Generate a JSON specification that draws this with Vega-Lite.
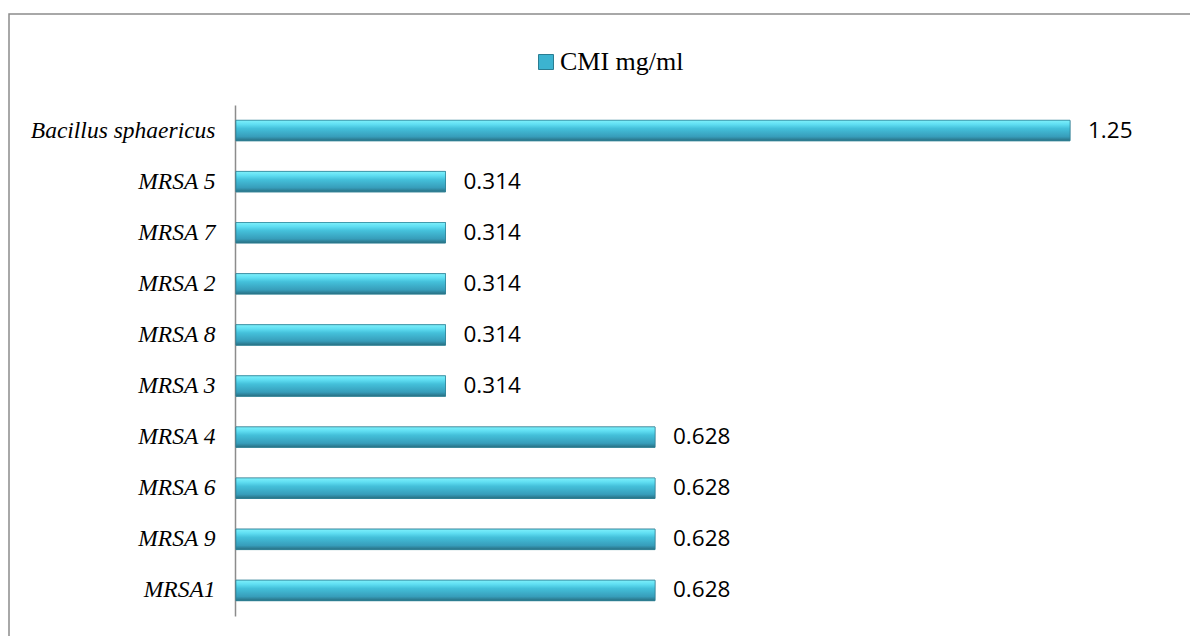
{
  "$schema": "https://vega.github.io/schema/vega-lite/v6.json",
  "autosize": {"type": "none"},
  "padding": {"left": 9, "top": 14, "right": 0, "bottom": 0},
  "width": 1182,
  "height": 623,
  "background": "white",
  "config": {
    "view": {"stroke": "#8c8c8c", "strokeWidth": 1.5},
    "axis": {"grid": false}
  },
  "data": {
    "values": [
      {"strain": "Bacillus sphaericus", "cmi": 1.25, "label": "1.25"},
      {"strain": "MRSA 5", "cmi": 0.314, "label": "0.314"},
      {"strain": "MRSA 7", "cmi": 0.314, "label": "0.314"},
      {"strain": "MRSA 2", "cmi": 0.314, "label": "0.314"},
      {"strain": "MRSA 8", "cmi": 0.314, "label": "0.314"},
      {"strain": "MRSA 3", "cmi": 0.314, "label": "0.314"},
      {"strain": "MRSA 4", "cmi": 0.628, "label": "0.628"},
      {"strain": "MRSA 6", "cmi": 0.628, "label": "0.628"},
      {"strain": "MRSA 9", "cmi": 0.628, "label": "0.628"},
      {"strain": "MRSA1", "cmi": 0.628, "label": "0.628"}
    ]
  },
  "encoding": {
    "y": {
      "field": "strain",
      "type": "nominal",
      "sort": null,
      "title": null,
      "scale": {
        "domain": ["Bacillus sphaericus", "MRSA 5", "MRSA 7", "MRSA 2", "MRSA 8", "MRSA 3", "MRSA 4", "MRSA 6", "MRSA 9", "MRSA1"],
        "range": [91, 602],
        "paddingInner": 0.6,
        "paddingOuter": 0.3
      },
      "axis": {
        "offset": -226,
        "domainColor": "#8c8c8c",
        "domainWidth": 1.5,
        "ticks": false,
        "labelPadding": 20,
        "labelFont": "Liberation Serif",
        "labelFontStyle": "italic",
        "labelFontSize": 23.5,
        "labelColor": "#000000",
        "labelLimit": 400
      }
    },
    "x": {
      "field": "cmi",
      "type": "quantitative",
      "scale": {"domain": [0, 1.25], "range": [227, 1061], "zero": true, "nice": false},
      "axis": null
    }
  },
  "layer": [
    {
      "mark": {"type": "bar", "stroke": "#2d7f94", "strokeWidth": 0.8},
      "encoding": {
        "color": {
          "datum": "CMI mg/ml",
          "type": "nominal",
          "scale": {"range": ["#3cb3d0"]},
          "legend": {
            "title": null,
            "orient": "none",
            "legendX": 524,
            "legendY": 35,
            "padding": 0,
            "symbolType": "square",
            "symbolSize": 225,
            "symbolStrokeColor": "#2a7d92",
            "symbolStrokeWidth": 1,
            "labelFont": "Liberation Serif",
            "labelFontSize": 26,
            "labelColor": "#000000",
            "labelOffset": 1
          }
        }
      }
    },
    {
      "mark": {
        "type": "bar",
        "fill": {
          "gradient": "linear",
          "x1": 0, "y1": 0, "x2": 0, "y2": 1,
          "stops": [
            {"offset": 0, "color": "#7ef0fb"},
            {"offset": 0.2, "color": "#5fdef2"},
            {"offset": 0.4, "color": "#44c0da"},
            {"offset": 0.8, "color": "#379dba"},
            {"offset": 1, "color": "#286f82"}
          ]
        },
        "stroke": "#2d7f94",
        "strokeWidth": 0.6
      }
    },
    {
      "mark": {
        "type": "text",
        "align": "left",
        "baseline": "middle",
        "dx": 18,
        "font": "Open Sans",
        "fontSize": 22.5,
        "color": "#000000"
      },
      "encoding": {"text": {"field": "label"}}
    }
  ]
}
